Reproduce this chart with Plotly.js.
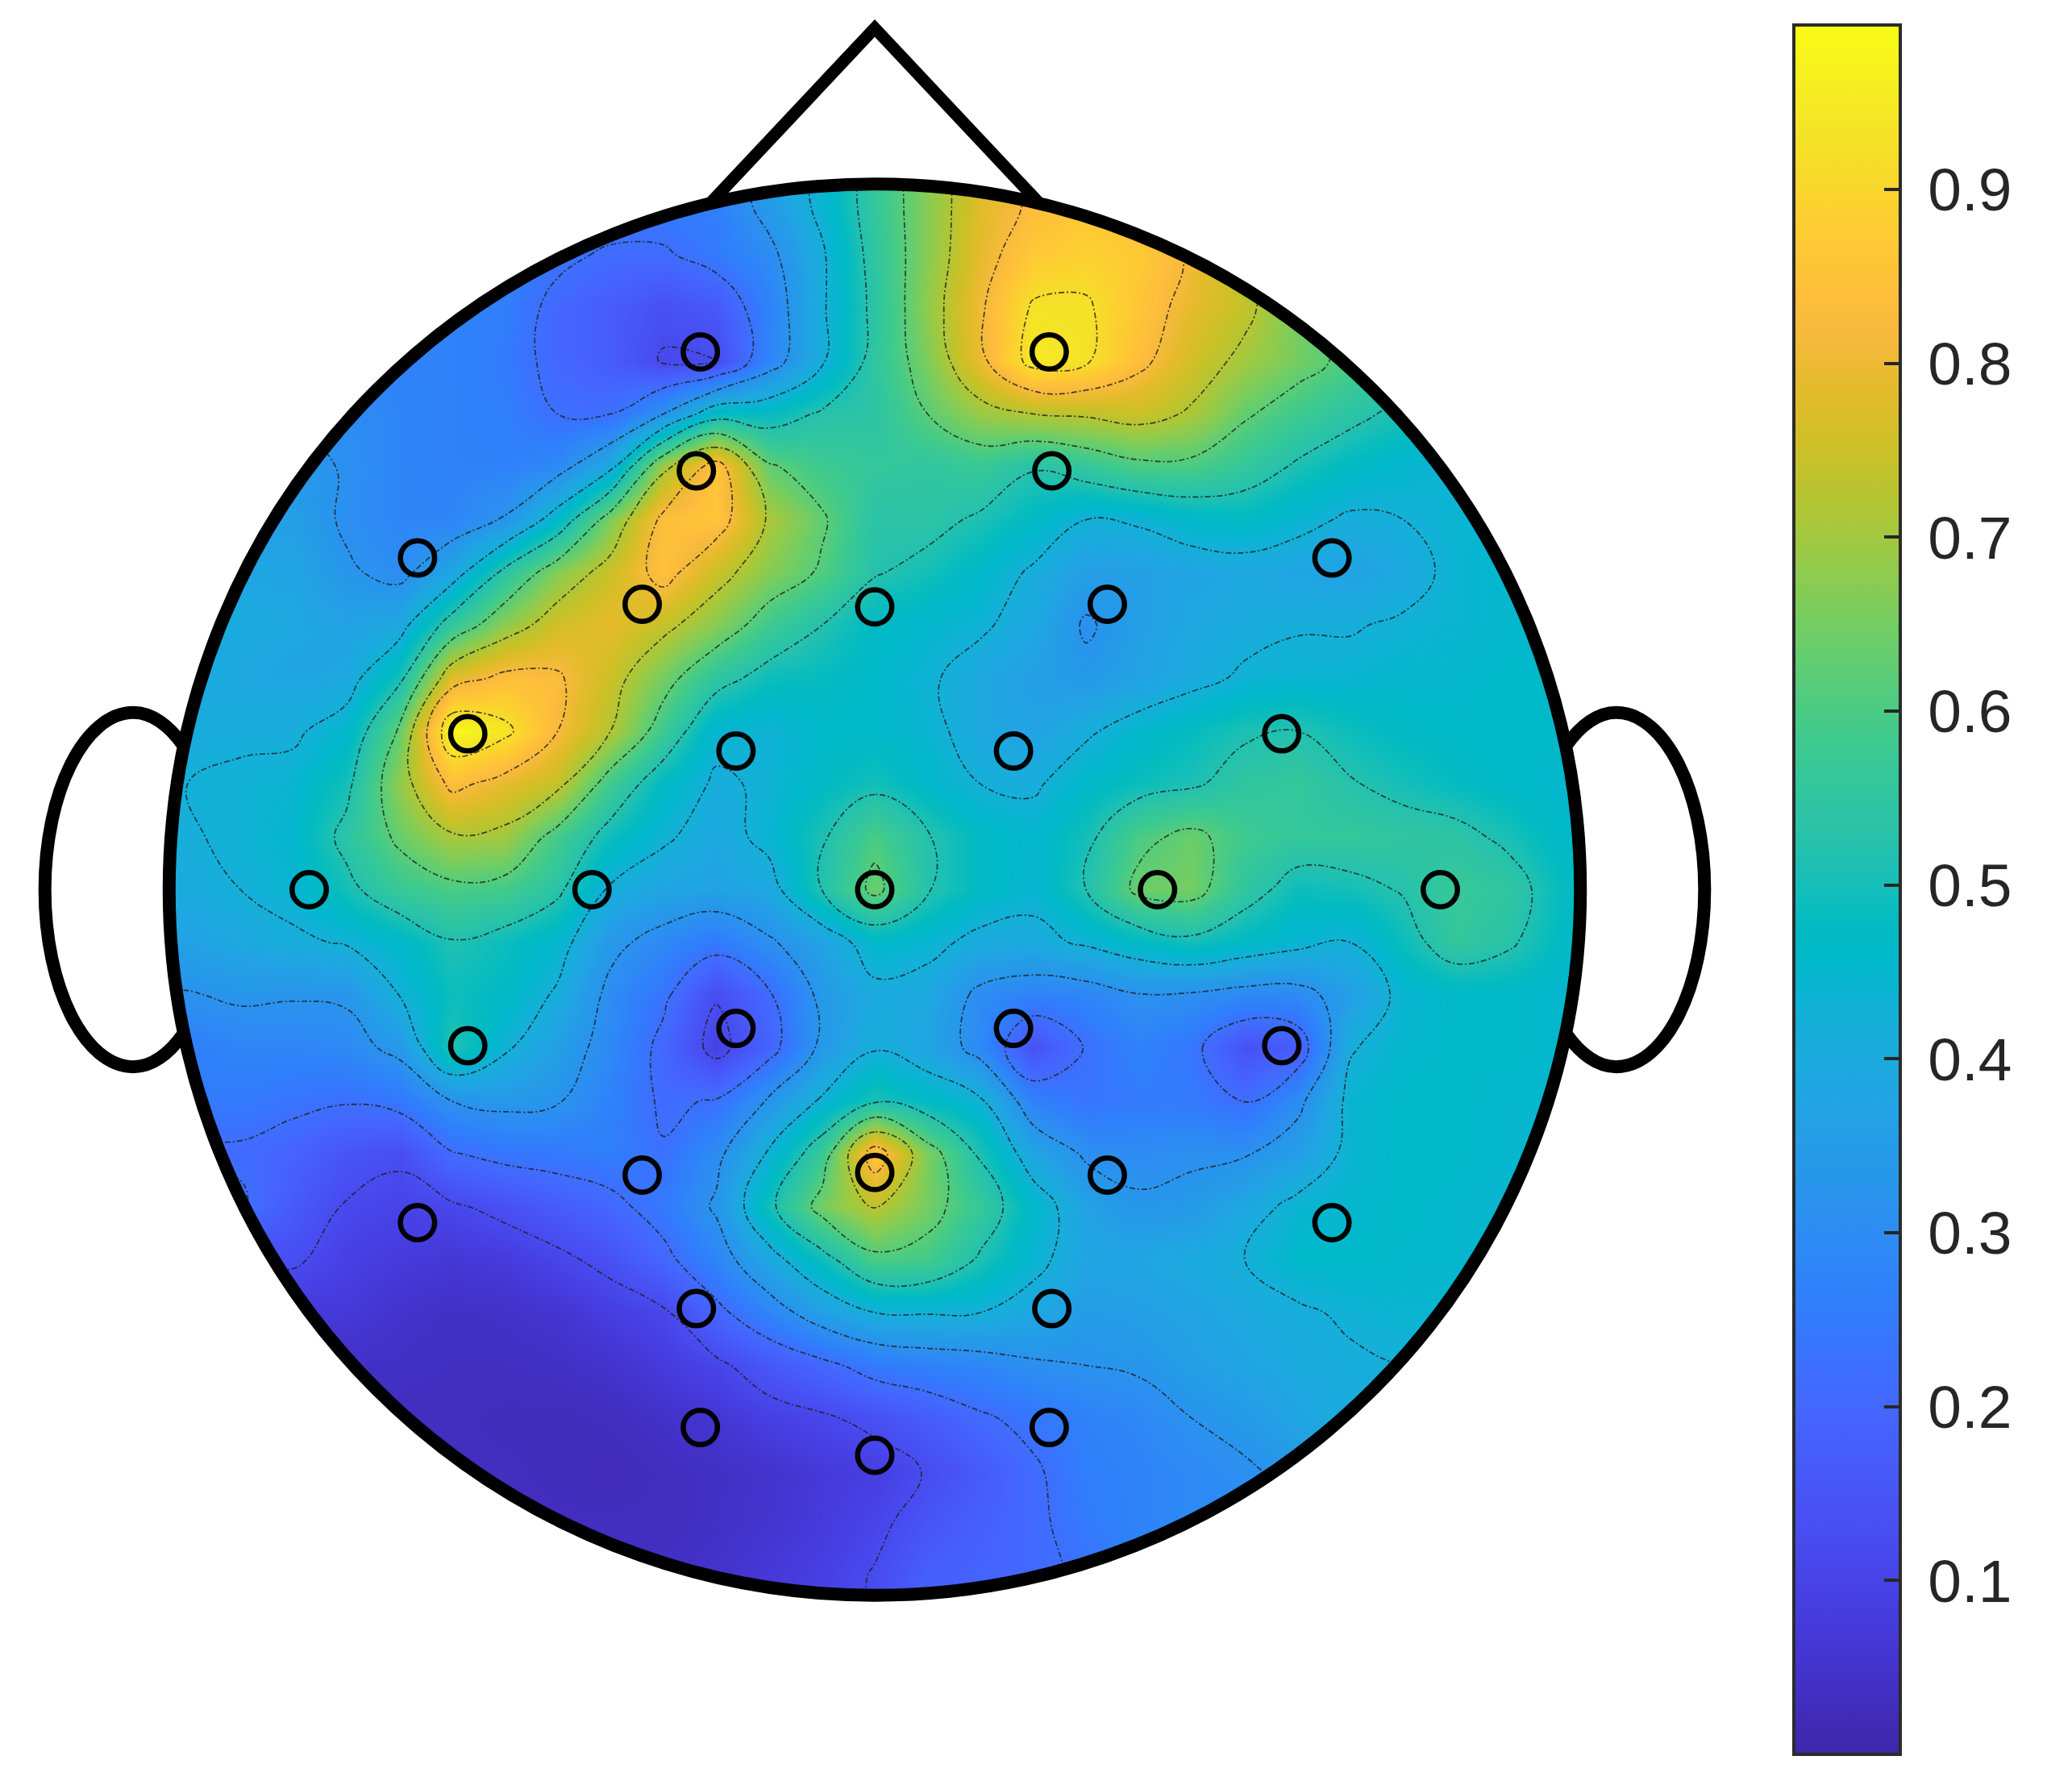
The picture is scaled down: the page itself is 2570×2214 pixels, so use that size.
<!DOCTYPE html>
<html><head><meta charset="utf-8">
<script src="https://cdn.plot.ly/plotly-3.0.1.min.js"></script>
<style>html,body{margin:0;padding:0;background:#fff}#g{width:2570px;height:2214px}</style>
</head><body><div id="g"></div>
<script>
const gridX = [-560,-520,-480,-440,-400,-360,-320,-280,-240,-200,-160,-120,-80,-40,0,40,80,120,160,200,240,280,320,360,400,440,480,520,560];
const gridY = [560,520,480,440,400,360,320,280,240,200,160,120,80,40,0,-40,-80,-120,-160,-200,-240,-280,-320,-360,-400,-440,-480,-520,-560];
const amplitude = [
[.30,.30,.30,.29,.28,.27,.27,.27,.27,.26,.26,.26,.35,.44,.56,.67,.78,.83,.86,.83,.78,.71,.64,.57,.52,.48,.45,.43,.43],
[.30,.30,.30,.29,.28,.27,.27,.27,.27,.26,.26,.26,.35,.44,.56,.67,.78,.83,.86,.83,.78,.71,.64,.57,.52,.48,.45,.43,.43],
[.30,.30,.30,.29,.28,.27,.27,.27,.235,.21,.21,.25,.30,.41,.55,.67,.79,.87,.89,.87,.81,.73,.66,.58,.53,.48,.45,.43,.43],
[.31,.31,.30,.29,.28,.27,.27,.26,.20,.17,.135,.16,.27,.41,.54,.68,.81,.93,.93,.86,.79,.74,.65,.58,.53,.48,.45,.43,.43],
[.31,.31,.30,.29,.28,.27,.27,.25,.20,.17,.115,.12,.28,.41,.55,.66,.80,.95,.93,.84,.76,.70,.65,.60,.55,.50,.46,.43,.43],
[.32,.32,.31,.31,.30,.28,.27,.26,.22,.22,.32,.48,.48,.53,.54,.62,.69,.72,.73,.75,.71,.63,.58,.54,.50,.47,.44,.43,.43],
[.36,.36,.35,.34,.315,.28,.27,.27,.29,.40,.70,.86,.63,.58,.56,.55,.57,.525,.56,.60,.60,.56,.51,.47,.45,.43,.42,.42,.42],
[.37,.37,.36,.36,.31,.28,.28,.325,.46,.66,.84,.86,.71,.63,.535,.54,.51,.47,.42,.43,.46,.47,.44,.41,.42,.44,.44,.44,.44],
[.39,.39,.38,.38,.33,.30,.38,.54,.67,.75,.85,.75,.67,.61,.525,.50,.46,.41,.36,.36,.38,.39,.38,.37,.39,.44,.45,.45,.45],
[.41,.41,.40,.39,.37,.39,.56,.68,.76,.79,.74,.67,.58,.52,.47,.45,.43,.39,.31,.36,.39,.40,.415,.415,.43,.44,.45,.45,.45],
[.40,.40,.39,.38,.39,.50,.78,.84,.83,.75,.65,.55,.49,.48,.46,.43,.39,.36,.34,.37,.40,.43,.44,.44,.45,.45,.46,.46,.46],
[.40,.40,.41,.41,.45,.63,.99,.94,.82,.72,.58,.44,.43,.46,.46,.44,.39,.37,.41,.45,.48,.51,.52,.49,.47,.46,.46,.46,.46],
[.42,.42,.43,.44,.50,.68,.84,.79,.74,.58,.47,.41,.43,.47,.50,.46,.42,.41,.46,.49,.51,.55,.56,.525,.50,.48,.46,.45,.45],
[.41,.415,.43,.45,.54,.635,.71,.70,.59,.49,.43,.39,.44,.51,.60,.525,.47,.45,.50,.60,.64,.58,.56,.56,.55,.54,.505,.46,.46],
[.40,.40,.42,.44,.50,.57,.60,.59,.535,.41,.38,.37,.39,.52,.64,.525,.47,.44,.52,.64,.65,.55,.49,.50,.525,.57,.55,.48,.48],
[.37,.37,.39,.41,.425,.46,.515,.49,.45,.34,.29,.25,.31,.37,.46,.44,.40,.40,.43,.47,.50,.47,.44,.42,.49,.56,.53,.47,.47],
[.315,.315,.33,.325,.33,.42,.49,.47,.41,.30,.235,.125,.21,.34,.40,.39,.30,.27,.28,.315,.31,.29,.29,.36,.44,.46,.46,.45,.45],
[.26,.26,.28,.28,.29,.34,.52,.43,.36,.29,.20,.095,.19,.34,.415,.38,.29,.14,.225,.27,.24,.14,.17,.415,.45,.46,.46,.45,.45],
[.25,.25,.25,.235,.225,.245,.32,.34,.325,.27,.21,.225,.33,.43,.51,.47,.43,.27,.235,.25,.25,.215,.30,.44,.46,.46,.45,.45,.45],
[.22,.21,.21,.19,.15,.13,.215,.24,.25,.26,.225,.30,.43,.57,.87,.66,.51,.38,.31,.30,.31,.315,.36,.44,.46,.46,.45,.44,.44],
[.23,.23,.23,.165,.115,.10,.11,.14,.17,.20,.25,.33,.50,.65,.73,.65,.565,.46,.37,.33,.34,.39,.44,.45,.46,.45,.44,.44,.44],
[.13,.13,.13,.13,.09,.075,.065,.075,.105,.14,.20,.28,.39,.49,.60,.59,.51,.44,.38,.385,.40,.42,.46,.46,.455,.45,.45,.45,.45],
[.07,.07,.07,.07,.07,.05,.04,.045,.055,.085,.11,.20,.28,.365,.42,.425,.42,.39,.35,.36,.375,.395,.41,.43,.44,.44,.44,.44,.44],
[.04,.04,.04,.04,.04,.04,.035,.035,.04,.05,.075,.105,.16,.20,.25,.27,.285,.31,.32,.33,.36,.38,.40,.41,.42,.42,.42,.42,.42],
[.03,.03,.03,.03,.03,.03,.03,.025,.025,.03,.045,.06,.09,.11,.14,.17,.21,.24,.27,.285,.32,.345,.38,.40,.40,.40,.40,.40,.40],
[.03,.03,.03,.03,.03,.03,.03,.03,.025,.02,.03,.04,.05,.07,.085,.125,.165,.21,.26,.275,.29,.31,.34,.36,.36,.36,.36,.36,.36],
[.03,.03,.03,.03,.03,.03,.03,.03,.03,.03,.03,.04,.055,.075,.105,.15,.18,.205,.25,.275,.29,.30,.30,.30,.30,.30,.30,.30,.30],
[.03,.03,.03,.03,.03,.03,.03,.03,.03,.03,.04,.05,.07,.09,.125,.18,.19,.205,.23,.25,.27,.28,.28,.28,.28,.28,.28,.28,.28],
[.03,.03,.03,.03,.03,.03,.03,.03,.03,.03,.04,.05,.07,.09,.125,.18,.19,.205,.23,.25,.27,.28,.28,.28,.28,.28,.28,.28,.28]
];
const electrodeX = [-132,132,-135,134,-346,346,-176,0,176,-308,308,-105,105,-428,-214,0,214,428,-308,308,-105,105,-176,176,0,-346,346,-135,134,-132,132,0];
const electrodeY = [407,407,317,317,251,251,216,214,216,118,118,105,105,0,0,0,0,0,-118,-118,-105,-105,-216,-216,-214,-252,-252,-317,-317,-407,-407,-428];
const tickValues = [0.1,0.2,0.3,0.4,0.5,0.6,0.7,0.8,0.9];
const palette = [[.2422,.1504,.6603],[.2504,.1650,.7076],[.2578,.1818,.7511],[.2647,.1978,.7952],[.2706,.2147,.8364],[.2751,.2342,.8710],[.2783,.2559,.8991],[.2803,.2782,.9221],[.2813,.3006,.9414],[.2810,.3228,.9579],[.2795,.3447,.9717],[.2760,.3667,.9829],[.2699,.3892,.9906],[.2602,.4123,.9952],[.2440,.4358,.9988],[.2206,.4603,.9973],[.1963,.4847,.9892],[.1834,.5074,.9798],[.1786,.5289,.9682],[.1764,.5499,.9520],[.1687,.5703,.9359],[.1540,.5902,.9218],[.1460,.6091,.9079],[.1380,.6276,.8973],[.1248,.6459,.8883],[.1113,.6635,.8763],[.0952,.6798,.8598],[.0689,.6948,.8394],[.0297,.7082,.8163],[.0036,.7203,.7917],[.0067,.7312,.7660],[.0433,.7411,.7394],[.0964,.7500,.7120],[.1408,.7584,.6842],[.1717,.7670,.6554],[.1938,.7758,.6251],[.2161,.7843,.5923],[.2470,.7918,.5567],[.2906,.7973,.5188],[.3406,.8008,.4789],[.3909,.8029,.4354],[.4456,.8024,.3909],[.5044,.7993,.3480],[.5616,.7942,.3045],[.6174,.7876,.2612],[.6720,.7793,.2227],[.7242,.7698,.1910],[.7738,.7598,.1646],[.8203,.7498,.1535],[.8634,.7406,.1596],[.9035,.7330,.1774],[.9393,.7288,.2100],[.9728,.7298,.2394],[.9956,.7434,.2371],[.9970,.7659,.2199],[.9952,.7893,.2028],[.9892,.8136,.1885],[.9786,.8386,.1766],[.9676,.8639,.1643],[.9610,.8890,.1537],[.9597,.9135,.1423],[.9628,.9373,.1265],[.9691,.9606,.1064],[.9769,.9839,.0805]];
const colorscale = palette.map((c,i)=>[i/(palette.length-1),`rgb(${Math.round(c[0]*255)},${Math.round(c[1]*255)},${Math.round(c[2]*255)})`]);

const R = 534, C = 0.5523*R, W = 2570, H = 2214, cx = 1085, cy = 1103.5, k = 2570/1568;
const ink = '#000';
const traces = [
 {type:'heatmap',x:gridX,y:gridY,z:amplitude,zmin:0,zmax:0.9946,zsmooth:'best',colorscale,hoverinfo:'skip',
  colorbar:{x:2225/W,xanchor:'left',y:1-31/H,yanchor:'top',len:(2176-31)/H,lenmode:'fraction',thickness:132,thicknessmode:'pixels',
    xpad:0,ypad:0,outlinewidth:4,outlinecolor:'#2b2b2b',tickmode:'array',tickvals:tickValues,
    ticktext:tickValues.map(v=>'<span style="font-size:60px">&nbsp;</span>'+v),
    ticks:'inside',ticklen:22,tickwidth:4,tickcolor:'#262626',tickfont:{family:'"Liberation Sans",Arial,sans-serif',size:75,color:'#262626'}}},
 {type:'contour',x:gridX,y:gridY,z:amplitude,showscale:false,hoverinfo:'skip',
  contours:{coloring:'none',start:0.12,end:0.92,size:0.1},line:{color:'rgba(30,30,30,0.82)',width:1.7,dash:'7px,3px,2px,3px',smoothing:1.2}},
 {type:'scatter',mode:'markers',x:electrodeX,y:electrodeY,hoverinfo:'skip',cliponaxis:false,
  marker:{symbol:'circle',size:42.5,color:'rgba(0,0,0,0)',line:{color:ink,width:6.5}}}
];
const xr=[-cx/k, (W-cx)/k], yr=[(cy-H)/k, cy/k];
const shapes = [
 {type:'path',xref:'x',yref:'y',layer:'above',fillcolor:'#fff',fillrule:'evenodd',line:{width:0},
  path:`M ${xr[0]-5} ${yr[0]-5} L 660 ${yr[0]-5} L 660 ${yr[1]+5} L ${xr[0]-5} ${yr[1]+5} Z M -${R} 0 C -${R} ${C} -${C} ${R} 0 ${R} C ${C} ${R} ${R} ${C} ${R} 0 C ${R} -${C} ${C} -${R} 0 -${R} C -${C} -${R} -${R} -${C} -${R} 0 Z`},
 {type:'circle',xref:'x',yref:'y',layer:'above',x0:-R,x1:R,y0:-R,y1:R,line:{color:ink,width:16}},
 {type:'path',xref:'x',yref:'y',layer:'above',line:{color:ink,width:15},path:'M -124 520 L 0 652 L 124 520'},
 {type:'path',xref:'x',yref:'y',layer:'above',line:{color:ink,width:16},path:'M -524 110 C -534 124 -547 134 -561 134 C -598 134 -628 74 -628 0 C -628 -74 -598 -134 -561 -134 C -547 -134 -534 -124 -524 -110'},
 {type:'path',xref:'x',yref:'y',layer:'above',line:{color:ink,width:16},path:'M 524 110 C 534 124 547 134 561 134 C 598 134 628 74 628 0 C 628 -74 598 -134 561 -134 C 547 -134 534 -124 524 -110'}
];
const layout = {width:W,height:H,margin:{l:0,r:0,t:0,b:0,pad:0,autoexpand:false},paper_bgcolor:'#fff',plot_bgcolor:'#fff',showlegend:false,
 xaxis:{visible:false,range:xr,fixedrange:true,constrain:'domain'},yaxis:{visible:false,range:yr,fixedrange:true},shapes};
Plotly.newPlot('g',traces,layout,{displayModeBar:false,staticPlot:true});
</script></body></html>
